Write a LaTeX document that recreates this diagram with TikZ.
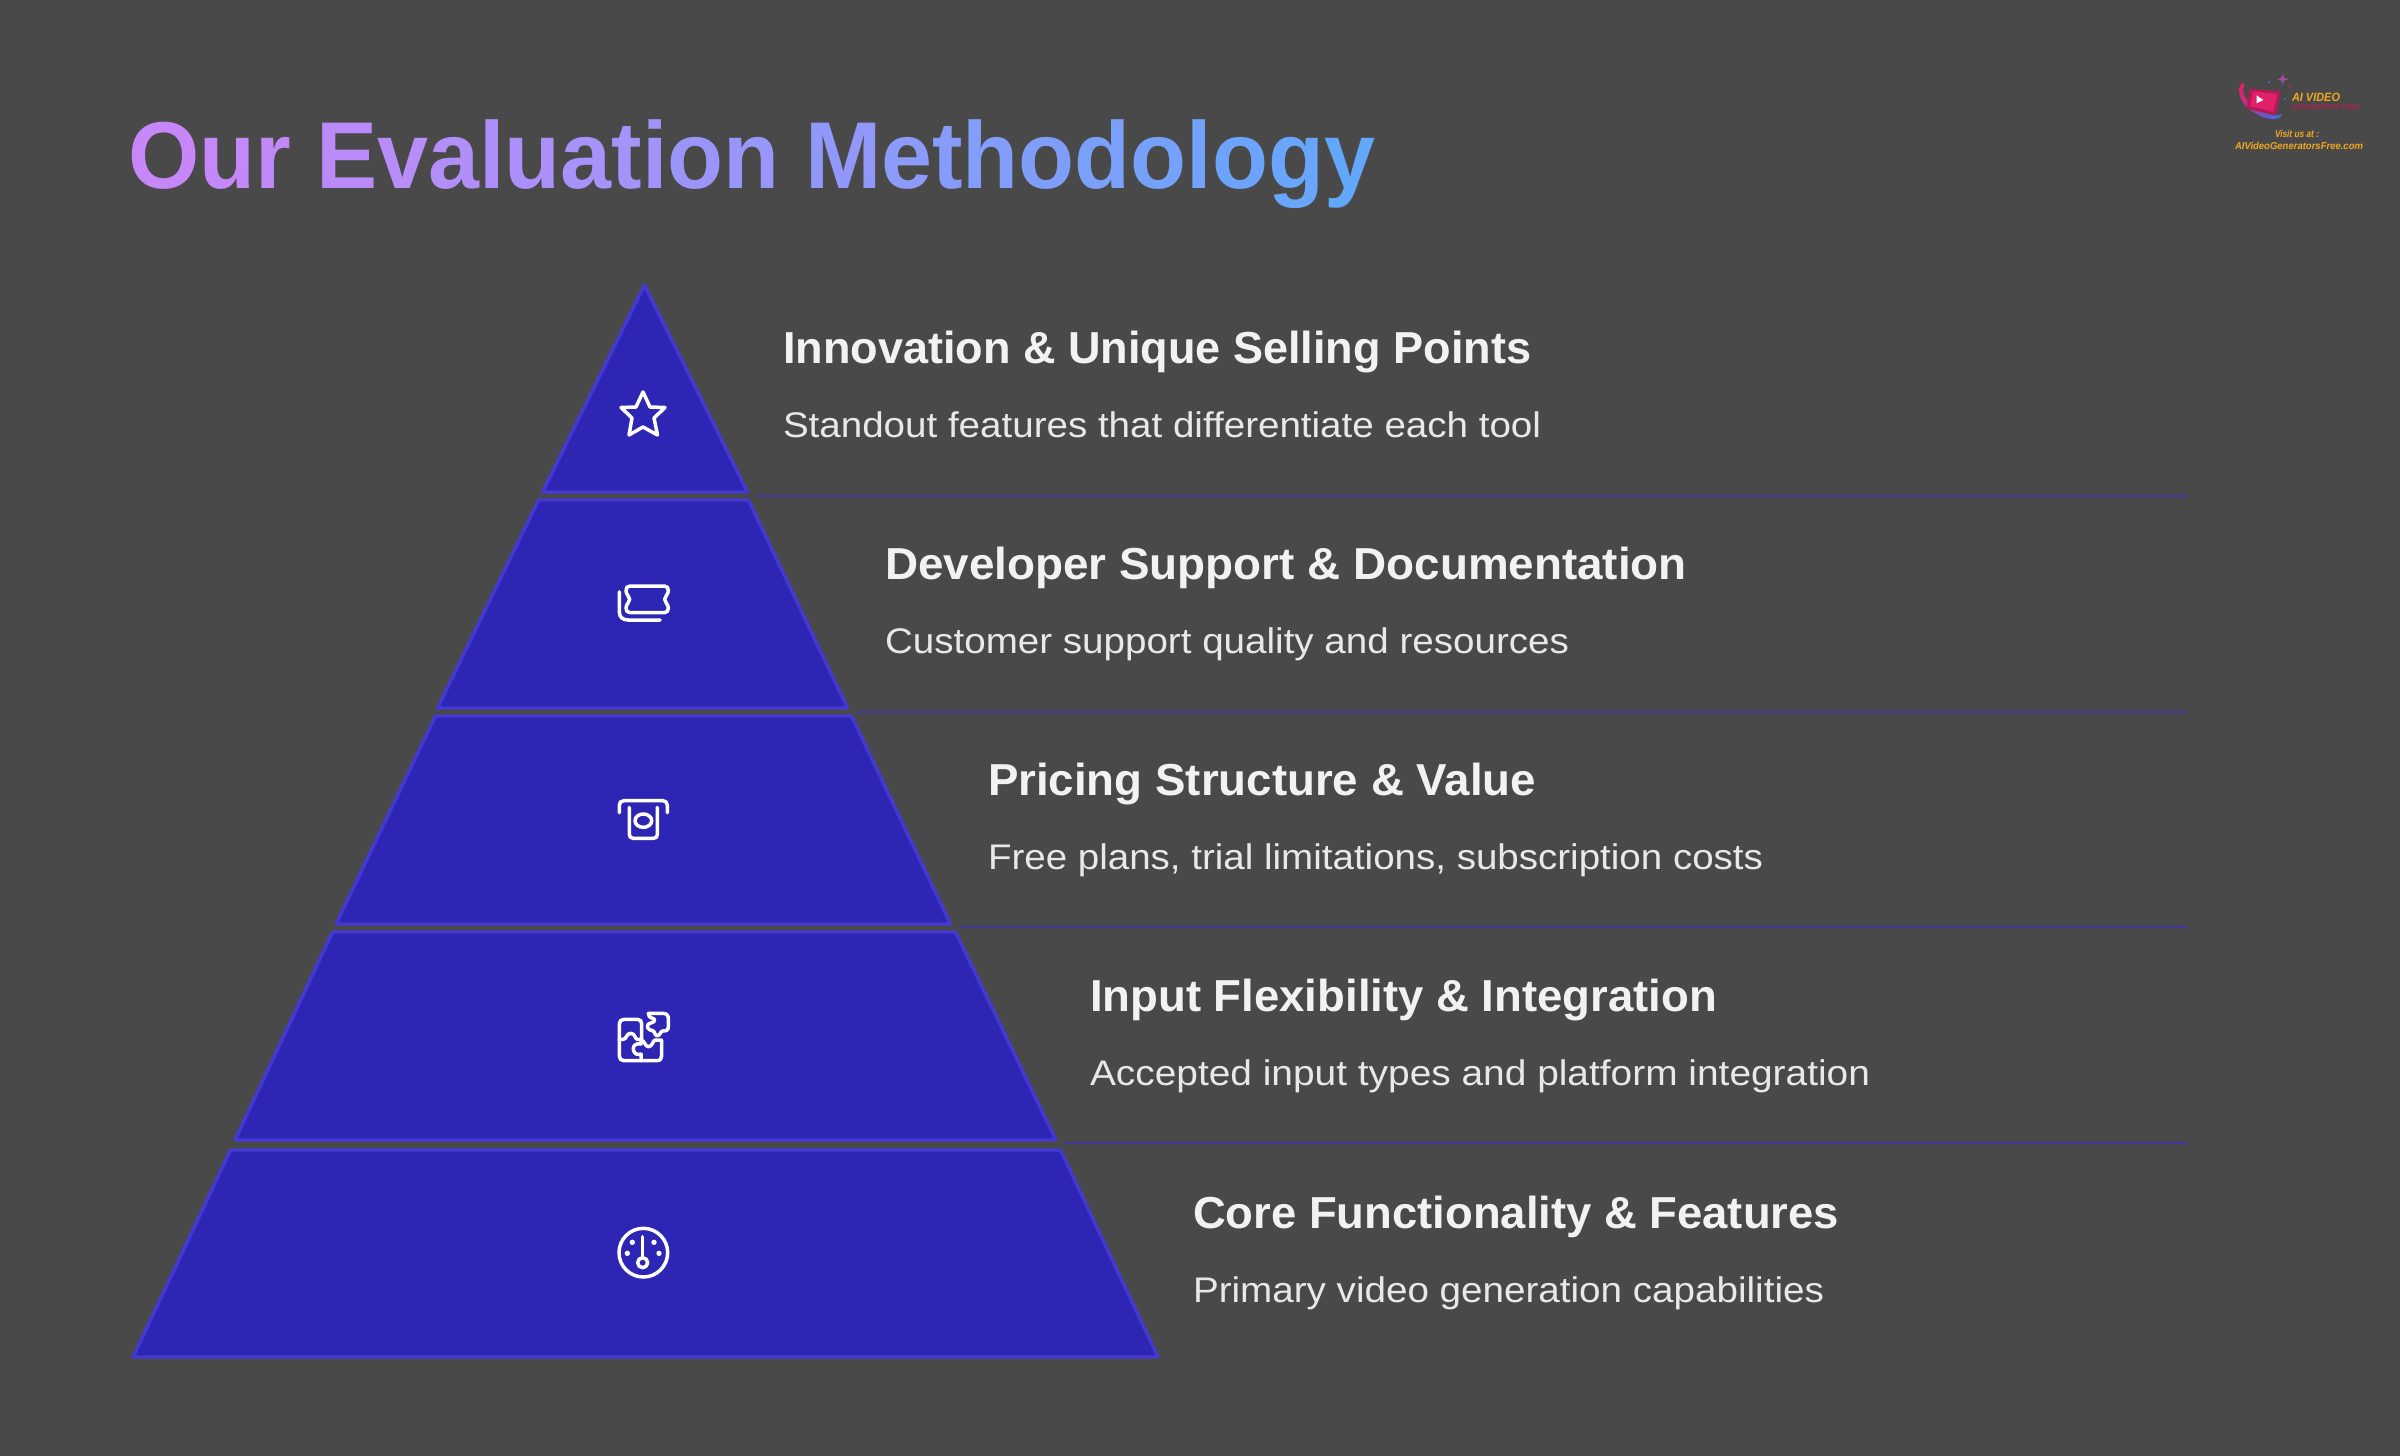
\documentclass[tikz,border=0pt]{standalone}
\usepackage{fontspec}
\usepackage{graphicx}
\setmainfont{Liberation Sans}
\definecolor{bgc}{HTML}{4A494A}
\definecolor{layerfill}{HTML}{2D26B4}
\definecolor{layeredge}{HTML}{4439D2}
\definecolor{sepc}{HTML}{41369A}
\definecolor{headc}{HTML}{F2F2F4}
\definecolor{bodyc}{HTML}{E8E8EA}
\definecolor{tl}{HTML}{C887F8}
\definecolor{tr}{HTML}{60A8FB}
\definecolor{logoy}{HTML}{F0A820}
\definecolor{logor}{HTML}{A82450}
\definecolor{logop}{HTML}{E0206A}
\definecolor{logob}{HTML}{4A68E0}
\newcommand{\fitw}[2]{\resizebox{#1pt}{\height}{#2}}
\newcommand{\gl}[2]{\textcolor{tr!#1!tl}{#2}}
\tikzset{
  layer/.style={fill=layerfill,draw=layeredge,line width=1.7pt,line join=round},
  sepline/.style={draw=sepc,line width=1.4pt},
  headtxt/.style={anchor=base west,inner sep=0,outer sep=0,text=headc,font=\bfseries\fontsize{22.4}{26}\selectfont},
  bodytxt/.style={anchor=base west,inner sep=0,outer sep=0,text=bodyc,font=\fontsize{17.8}{21}\selectfont},
  iconthick/.style={draw=white,line width=1.75pt,line cap=round,line join=round},
  zoomed/.style={x=.16667pt,y=-.16667pt},
  logotxt/.style={anchor=base west,inner sep=0,outer sep=0,font=\bfseries\itshape\fontsize{5}{6}\selectfont}
}
\begin{document}
\begin{tikzpicture}[x=.5pt,y=-.5pt]
\path[use as bounding box,fill=bgc] (0,0) rectangle (2400,1456);
% title
\node[anchor=base west,inner sep=0,outer sep=0,font=\bfseries\fontsize{47.5}{54}\selectfont] (title) at (128,188)
 {\resizebox{623.5pt}{\height}{\gl{0}{O}\gl{4}{u}\gl{7}{r} \gl{13}{E}\gl{17}{v}\gl{21}{a}\gl{25}{l}\gl{28}{u}\gl{32}{a}\gl{35}{t}\gl{38}{i}\gl{42}{o}\gl{46}{n} \gl{53}{M}\gl{58}{e}\gl{62}{t}\gl{66}{h}\gl{70}{o}\gl{75}{d}\gl{79}{o}\gl{83}{l}\gl{87}{o}\gl{92}{g}\gl{97}{y}}};
% layers
\draw[layer] (644.5,285) -- (747.5,492) -- (542.5,492) -- cycle;
\draw[layer] (538.5,500) -- (748.5,500) -- (847.5,708) -- (437.5,708) -- cycle;
\draw[layer] (435.5,716) -- (851.5,716) -- (950.5,924) -- (336,924) -- cycle;
\draw[layer] (332.5,932) -- (955.5,932) -- (1056,1140) -- (235,1140) -- cycle;
\draw[layer] (230.5,1150) -- (1060.5,1150) -- (1158,1357) -- (133,1357) -- cycle;
% separators
\foreach \n/\xs/\yy in {1/756/496,2/857/712,3/959/927,4/1064/1143}{
  \coordinate (sepS\n) at (\xs,\yy);
  \coordinate (sepE\n) at (2188,\yy);
  \draw[sepline] (sepS\n) -- (sepE\n);
}
% text
\node[headtxt] (h1) at (783,363) {\fitw{374}{Innovation \& Unique Selling Points}};
\node[bodytxt] (b1) at (783,437) {\fitw{379}{Standout features that differentiate each tool}};
\node[headtxt] (h2) at (885,579) {\fitw{401}{Developer Support \& Documentation}};
\node[bodytxt] (b2) at (885,653) {\fitw{342}{Customer support quality and resources}};
\node[headtxt] (h3) at (988,795) {\fitw{274}{Pricing Structure \& Value}};
\node[bodytxt] (b3) at (988,869) {\fitw{387.5}{Free plans, trial limitations, subscription costs}};
\node[headtxt] (h4) at (1090,1011) {\fitw{313.5}{Input Flexibility \& Integration}};
\node[bodytxt] (b4) at (1090,1085) {\fitw{390}{Accepted input types and platform integration}};
\node[headtxt] (h5) at (1193,1228) {\fitw{323}{Core Functionality \& Features}};
\node[bodytxt] (b5) at (1193,1302) {\fitw{315.5}{Primary video generation capabilities}};
% star icon
\draw[iconthick] (643,392) -- (650,407) -- (665,407.5) -- (654,418) -- (657.5,435) -- (643,427) -- (629,435) -- (632,418) -- (621,407.5) -- (636,407) -- cycle;
% ticket icon
\begin{scope}[shift={(580,560)},zoomed]
\draw[iconthick] (150,78) -- (253,78) .. controls (262,78) and (265,84) .. (265,92) .. controls (265,104) and (254,108) .. (254,118) .. controls (254,128) and (265,132) .. (265,144) .. controls (265,152) and (262,158) .. (253,158) -- (150,158) .. controls (141,158) and (138,152) .. (138,144) .. controls (138,132) and (149,128) .. (149,118) .. controls (149,108) and (138,104) .. (138,92) .. controls (138,84) and (141,78) .. (150,78) -- cycle;
\draw[iconthick] (118,95) -- (118,155) .. controls (118,172) and (128,180) .. (145,180) -- (240,180);
\end{scope}
% atm icon
\begin{scope}[shift={(580,770)},zoomed]
\draw[iconthick] (118,128) -- (118,106) .. controls (118,97) and (123,92) .. (132,92) -- (248,92) .. controls (257,92) and (262,97) .. (262,106) -- (262,128);
\draw[iconthick] (148,112) -- (148,193) .. controls (148,201) and (152,205) .. (160,205) -- (220,205) .. controls (228,205) and (232,201) .. (232,193) -- (232,112);
\draw[iconthick] (190,152) ellipse [x radius=25,y radius=20];
\end{scope}
% puzzle icon
\begin{scope}[shift={(580,980)},zoomed]
\draw[iconthick] (118,178) -- (118,132) .. controls (118,123) and (123,118) .. (132,118) -- (172,118) .. controls (181,118) and (185,123) .. (185,132) -- (185,178) -- (172,178) .. controls (165,178) and (166,160) .. (152,160) .. controls (138,160) and (140,178) .. (130,178) -- (118,178);
\draw[iconthick] (118,178) -- (118,228) .. controls (118,237) and (123,242) .. (132,242) -- (230,242) .. controls (240,242) and (245,237) .. (245,228) -- (245,180) -- (225,180) .. controls (218,182) and (218,200) .. (205,200) .. controls (195,200) and (193,180) .. (183,180);
\draw[iconthick] (183,180) -- (183,192) .. controls (168,188) and (158,198) .. (160,208) .. controls (162,222) and (172,226) .. (183,222) -- (183,242);
\draw[iconthick] (205,100) -- (248,100) .. controls (260,100) and (265,106) .. (265,116) -- (265,140) .. controls (265,150) and (260,153) .. (248,153) .. controls (242,153) and (240,167) .. (232,167) .. controls (224,167) and (224,153) .. (218,152) .. controls (205,150) and (198,142) .. (205,132) .. controls (212,126) and (222,130) .. (224,120) .. controls (224,112) and (205,118) .. (205,100) -- cycle;
\end{scope}
% gauge icon
\begin{scope}[shift={(580,1190)},zoomed]
\draw[iconthick] (190,188) circle [radius=73];
\draw[iconthick] (188,140) -- (188,203);
\draw[iconthick] (188,218) circle [radius=15];
\foreach \dx/\dy in {157/157,222/157,142/190,237/190}{\fill[white] (\dx,\dy) circle [radius=8];}
\end{scope}
% logo
\begin{scope}[shift={(2200,50)},zoomed]
\shade[left color=logop,right color=logob,shading angle=60] (128,98) .. controls (105,115) and (118,165) .. (170,192) .. controls (205,212) and (240,212) .. (246,192) .. controls (225,203) and (190,192) .. (160,168) .. controls (135,148) and (122,125) .. (134,106) -- cycle;
\fill[logop!80!black] (148,116) -- (242,124) -- (228,196) -- (140,176) -- cycle;
\fill[logop] (158,124) -- (232,132) -- (220,186) -- (150,168) -- cycle;
\fill[white] (170,136) -- (190,150) -- (170,160) -- cycle;
\fill[violet!70!white] (248,72) -- (252,84) -- (264,88) -- (252,92) -- (248,104) -- (244,92) -- (232,88) -- (244,84) -- cycle;
\fill[logob] (207,97) circle [radius=3.5];
\fill[logob] (255,147) circle [radius=3.5];
\fill[logop] (268,110) circle [radius=3.5];
\end{scope}
\node[logotxt,text=logoy,font=\bfseries\itshape\fontsize{6}{7}\selectfont] (l1) at (2292,101) {\resizebox{24pt}{\height}{AI VIDEO}};
\node[logotxt,text=logor,font=\bfseries\itshape\fontsize{3.6}{4}\selectfont] (l2) at (2292,109) {\resizebox{34pt}{\height}{GENERATORS FREE}};
\node[logotxt,text=logoy] (l3) at (2275,137) {\resizebox{22pt}{\height}{Visit us at :}};
\node[logotxt,text=logoy] (l4) at (2235,149) {\resizebox{64pt}{\height}{AIVideoGeneratorsFree.com}};
\end{tikzpicture}
\end{document}
